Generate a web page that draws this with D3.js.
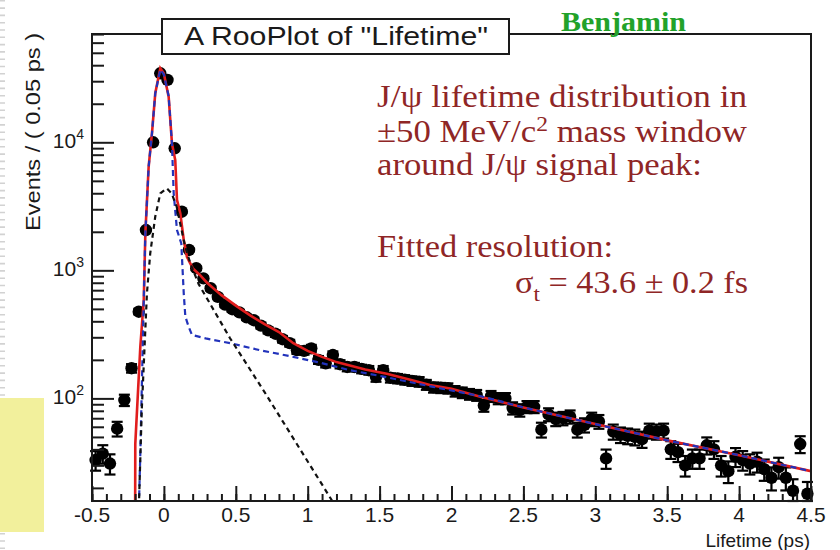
<!DOCTYPE html>
<html>
<head>
<meta charset="utf-8">
<script src="https://cdn.jsdelivr.net/npm/d3@7"></script>
<style>
  body { margin: 0; background: #fff; }
  svg { display: block; }
</style>
</head>
<body>
<svg id="chart" width="840" height="550"></svg>
<script>
// ---- binned lifetime data: bin centres (ps) and event counts per 0.05 ps ----
const binCentres = d3.range(100).map(i => +(-0.475 + 0.05 * i).toFixed(3));
const counts = [
  33, 37, 31, 58, 97, 172, 475, 2065, 10000, 34600,
  30700, 8980, 2870, 1443, 1040, 865, 725, 620, 540, 497,
  470, 430, 408, 370, 340, 320, 290, 270, 238, 235,
  246, 200, 188, 218, 185, 176, 176, 170, 166, 147,
  166, 145, 143, 140, 137, 135, 128, 122, 121, 120,
  114, 111, 108, 106, 88, 104, 100, 100, 84, 81,
  86, 86, 57, 75, 69, 70, 72, 57, 62, 69,
  66, 34, 55, 52, 51, 50, 48, 56, 55, 56,
  40, 38, 30, 34, 34, 43, 40, 30, 27, 35,
  33, 31, 32, 28, 24, 29, 24, 19, 44, 18
];

// ---- fitted model curves: [lifetime (ps), events per bin] ----
const totalFit = [
  [-0.200, 12], [-0.199, 44], [-0.164, 253], [-0.140, 586], [-0.129, 1946],
  [-0.106, 6460], [-0.083, 11760], [-0.060, 24150], [-0.025, 37800], [-0.001, 34600],
  [0.033, 22700], [0.056, 9800], [0.079, 7240], [0.091, 3550], [0.114, 2790],
  [0.138, 1725], [0.160, 1277], [0.200, 1040], [0.250, 920], [0.300, 800],
  [0.400, 640], [0.500, 530], [0.600, 445], [0.700, 380], [0.800, 330],
  [0.900, 270], [1.000, 235], [1.100, 211], [1.200, 192], [1.300, 180],
  [1.400, 168], [1.550, 156], [1.700, 141], [1.850, 127], [2.000, 119],
  [2.200, 103], [2.500, 85], [3.000, 63], [3.500, 47], [4.000, 36], [4.500, 27]
];
const promptPlusLong = [
  [-0.176, 12], [-0.165, 33], [-0.140, 586], [-0.129, 1946], [-0.106, 6460],
  [-0.083, 11760], [-0.060, 24150], [-0.025, 37000], [-0.001, 34000], [0.033, 23000],
  [0.056, 9800], [0.068, 4000], [0.091, 2065], [0.121, 1620], [0.138, 661],
  [0.149, 436], [0.172, 363], [0.195, 313], [0.290, 294], [0.460, 270],
  [0.668, 238], [0.900, 211], [1.060, 193], [1.294, 166], [1.526, 148],
  [1.873, 123], [2.220, 103], [2.500, 85], [3.000, 63], [3.500, 47],
  [4.000, 36], [4.500, 27]
];
const shortComponent = [
  [-0.176, 12], [-0.154, 81], [-0.118, 661], [-0.095, 1360], [-0.060, 2630],
  [-0.025, 3990], [0.020, 4370], [0.054, 3990], [0.089, 3140], [0.113, 2330],
  [0.148, 1530], [0.184, 1134], [0.242, 780], [0.460, 295], [0.700, 112],
  [1.200, 14]
];

// ---- axis ticks ----
const xMajorTicks = [-0.5, 0, 0.5, 1, 1.5, 2, 2.5, 3, 3.5, 4, 4.5];
const xTickLabels = ["-0.5", "0", "0.5", "1", "1.5", "2", "2.5", "3", "3.5", "4", "4.5"];
const yMajorTicks = [100, 1000, 10000];
const yTickExponents = ["2", "3", "4"];
const xRange = [-0.5, 4.5];
const yRange = [15.8, 70100];

const svg = d3.select("#chart");
const W = 840, H = 550;
const frameL = 92, frameR = 811, frameT = 34, frameB = 501;

const x = d3.scaleLinear().domain(xRange).range([frameL, frameR]);
const y = d3.scaleLog().domain(yRange).range([frameB, frameT]);

// page decoration at the left edge
svg.append("line")
  .attr("x1", 2.5).attr("x2", 2.5).attr("y1", 0).attr("y2", H)
  .attr("stroke", "#d2d2d2").attr("stroke-width", 5)
  .attr("stroke-dasharray", "1.6,5.7");
svg.append("rect")
  .attr("x", 0).attr("y", 398).attr("width", 44).attr("height", 134)
  .attr("fill", "#f2f09c");

// ---- data points with Poisson errors ----
const pts = binCentres.map((t, i) => ({ t, n: counts[i] }));
const gPts = svg.append("g");
pts.forEach(p => {
  if (p.n < yRange[0]) return;
  const e = Math.sqrt(p.n);
  const cx = x(p.t), cy = y(p.n);
  const yHi = y(p.n + e), yLo = y(Math.max(p.n - e, yRange[0]));
  const g = gPts.append("g").attr("stroke", "#000").attr("stroke-width", 2.2);
  g.append("line").attr("x1", cx).attr("x2", cx).attr("y1", yHi).attr("y2", yLo);
  g.append("line").attr("x1", cx - 5.5).attr("x2", cx + 5.5).attr("y1", yHi).attr("y2", yHi);
  g.append("line").attr("x1", cx - 5.5).attr("x2", cx + 5.5).attr("y1", yLo).attr("y2", yLo);
  g.append("line").attr("x1", x(p.t - 0.025)).attr("x2", x(p.t + 0.025)).attr("y1", cy).attr("y2", cy);
  gPts.append("circle").attr("cx", cx).attr("cy", cy).attr("r", 6.2).attr("fill", "#000");
});

// ---- fit curves ----
svg.append("clipPath").attr("id", "frameClip")
  .append("rect").attr("x", frameL).attr("y", frameT)
  .attr("width", frameR - frameL).attr("height", frameB - frameT);
const line = d3.line().x(d => x(d[0])).y(d => y(d[1]));
const gCurves = svg.append("g").attr("clip-path", "url(#frameClip)");
gCurves.append("path").datum(totalFit).attr("d", line)
  .attr("fill", "none").attr("stroke", "#e11d1d").attr("stroke-width", 2.6);
gCurves.append("path").datum(promptPlusLong).attr("d", line)
  .attr("fill", "none").attr("stroke", "#2233bb").attr("stroke-width", 2.2)
  .attr("stroke-dasharray", "6,4");
gCurves.append("path").datum(shortComponent).attr("d", line)
  .attr("fill", "none").attr("stroke", "#111").attr("stroke-width", 2.2)
  .attr("stroke-dasharray", "5,4");

// ---- frame and axes ----
const axisFont = "'Liberation Sans', Arial, Helvetica, sans-serif";
svg.append("rect")
  .attr("x", frameL).attr("y", frameT).attr("width", frameR - frameL).attr("height", frameB - frameT)
  .attr("fill", "none").attr("stroke", "#1a1a1a").attr("stroke-width", 2);

const xMinor = d3.range(-0.5, 4.5001, 0.1).map(v => +v.toFixed(2));
svg.append("g").attr("transform", `translate(0,${frameB})`)
  .call(d3.axisBottom(x).tickValues(xMinor).tickSize(-7).tickFormat(""));
svg.append("g").attr("transform", `translate(0,${frameB})`)
  .call(d3.axisBottom(x).tickValues(xMajorTicks).tickSize(-15).tickFormat(""));

const yMinor = [];
[10, 100, 1000, 10000].forEach(d => d3.range(2, 10).forEach(k => {
  const v = d * k;
  if (v > yRange[0] && v < yRange[1]) yMinor.push(v);
}));
svg.append("g").attr("transform", `translate(${frameL},0)`)
  .call(d3.axisLeft(y).tickValues(yMinor).tickSize(-12).tickFormat(""));
svg.append("g").attr("transform", `translate(${frameL},0)`)
  .call(d3.axisLeft(y).tickValues(yMajorTicks).tickSize(-22).tickFormat(""));
svg.selectAll(".domain").remove();
svg.selectAll(".tick line").attr("stroke", "#1a1a1a").attr("stroke-width", 2);

xMajorTicks.forEach((v, i) => {
  svg.append("text").attr("x", x(v)).attr("y", 522)
    .attr("text-anchor", "middle").attr("font-family", axisFont).attr("font-size", 21)
    .attr("fill", "#1a1a1a").text(xTickLabels[i]);
});

yMajorTicks.forEach((v, i) => {
  const t = svg.append("text").attr("x", 84).attr("y", y(v) + 6)
    .attr("text-anchor", "end").attr("font-family", axisFont).attr("font-size", 21)
    .attr("fill", "#1a1a1a");
  t.append("tspan").text("10");
  t.append("tspan").attr("font-size", 14).attr("dy", -9).text(yTickExponents[i]);
});

// axis titles
svg.append("text")
  .attr("transform", "translate(40,231) rotate(-90)")
  .attr("font-family", axisFont).attr("font-size", 21).attr("fill", "#1a1a1a")
  .attr("textLength", 198).attr("lengthAdjust", "spacingAndGlyphs")
  .text("Events / ( 0.05 ps )");
svg.append("text").attr("x", 810).attr("y", 547).attr("text-anchor", "end")
  .attr("font-family", axisFont).attr("font-size", 19).attr("fill", "#1a1a1a")
  .text("Lifetime (ps)");

// title box
svg.append("rect").attr("x", 162).attr("y", 19).attr("width", 347).attr("height", 35)
  .attr("fill", "#fff").attr("stroke", "#1a1a1a").attr("stroke-width", 2);
svg.append("text").attr("x", 184).attr("y", 45)
  .attr("font-family", axisFont).attr("font-size", 25).attr("fill", "#1a1a1a")
  .attr("textLength", 304).attr("lengthAdjust", "spacingAndGlyphs")
  .text("A RooPlot of \"Lifetime\"");

// author tag
svg.append("text").attr("x", 561).attr("y", 31)
  .attr("font-family", "'Liberation Serif', 'Times New Roman', serif").attr("font-weight", "bold")
  .attr("font-size", 28).attr("fill", "#22a22a")
  .attr("textLength", 125).attr("lengthAdjust", "spacingAndGlyphs")
  .text("Benjamin");

// annotation
const serif = "'Liberation Serif', 'Times New Roman', serif";
const noteColor = "#8f2626";
function note(xp, yp, len) {
  return svg.append("text").attr("x", xp).attr("y", yp)
    .attr("font-family", serif).attr("font-size", 31).attr("fill", noteColor)
    .attr("textLength", len).attr("lengthAdjust", "spacingAndGlyphs");
}
note(377, 107, 370).text("J/ψ lifetime distribution in");
const l2 = note(377, 142, 370);
l2.append("tspan").text("±50 MeV/c");
l2.append("tspan").attr("font-size", 21).attr("dy", -11).text("2");
l2.append("tspan").attr("dy", 11).text(" mass window");
note(377, 175, 325).text("around J/ψ signal peak:");
note(377, 257, 236).text("Fitted resolution:");
const l5 = note(515, 293, 233);
l5.append("tspan").text("σ");
l5.append("tspan").attr("font-size", 21).attr("dy", 8).text("t");
l5.append("tspan").attr("dy", -8).text(" = 43.6 ± 0.2 fs");
</script>
</body>
</html>
